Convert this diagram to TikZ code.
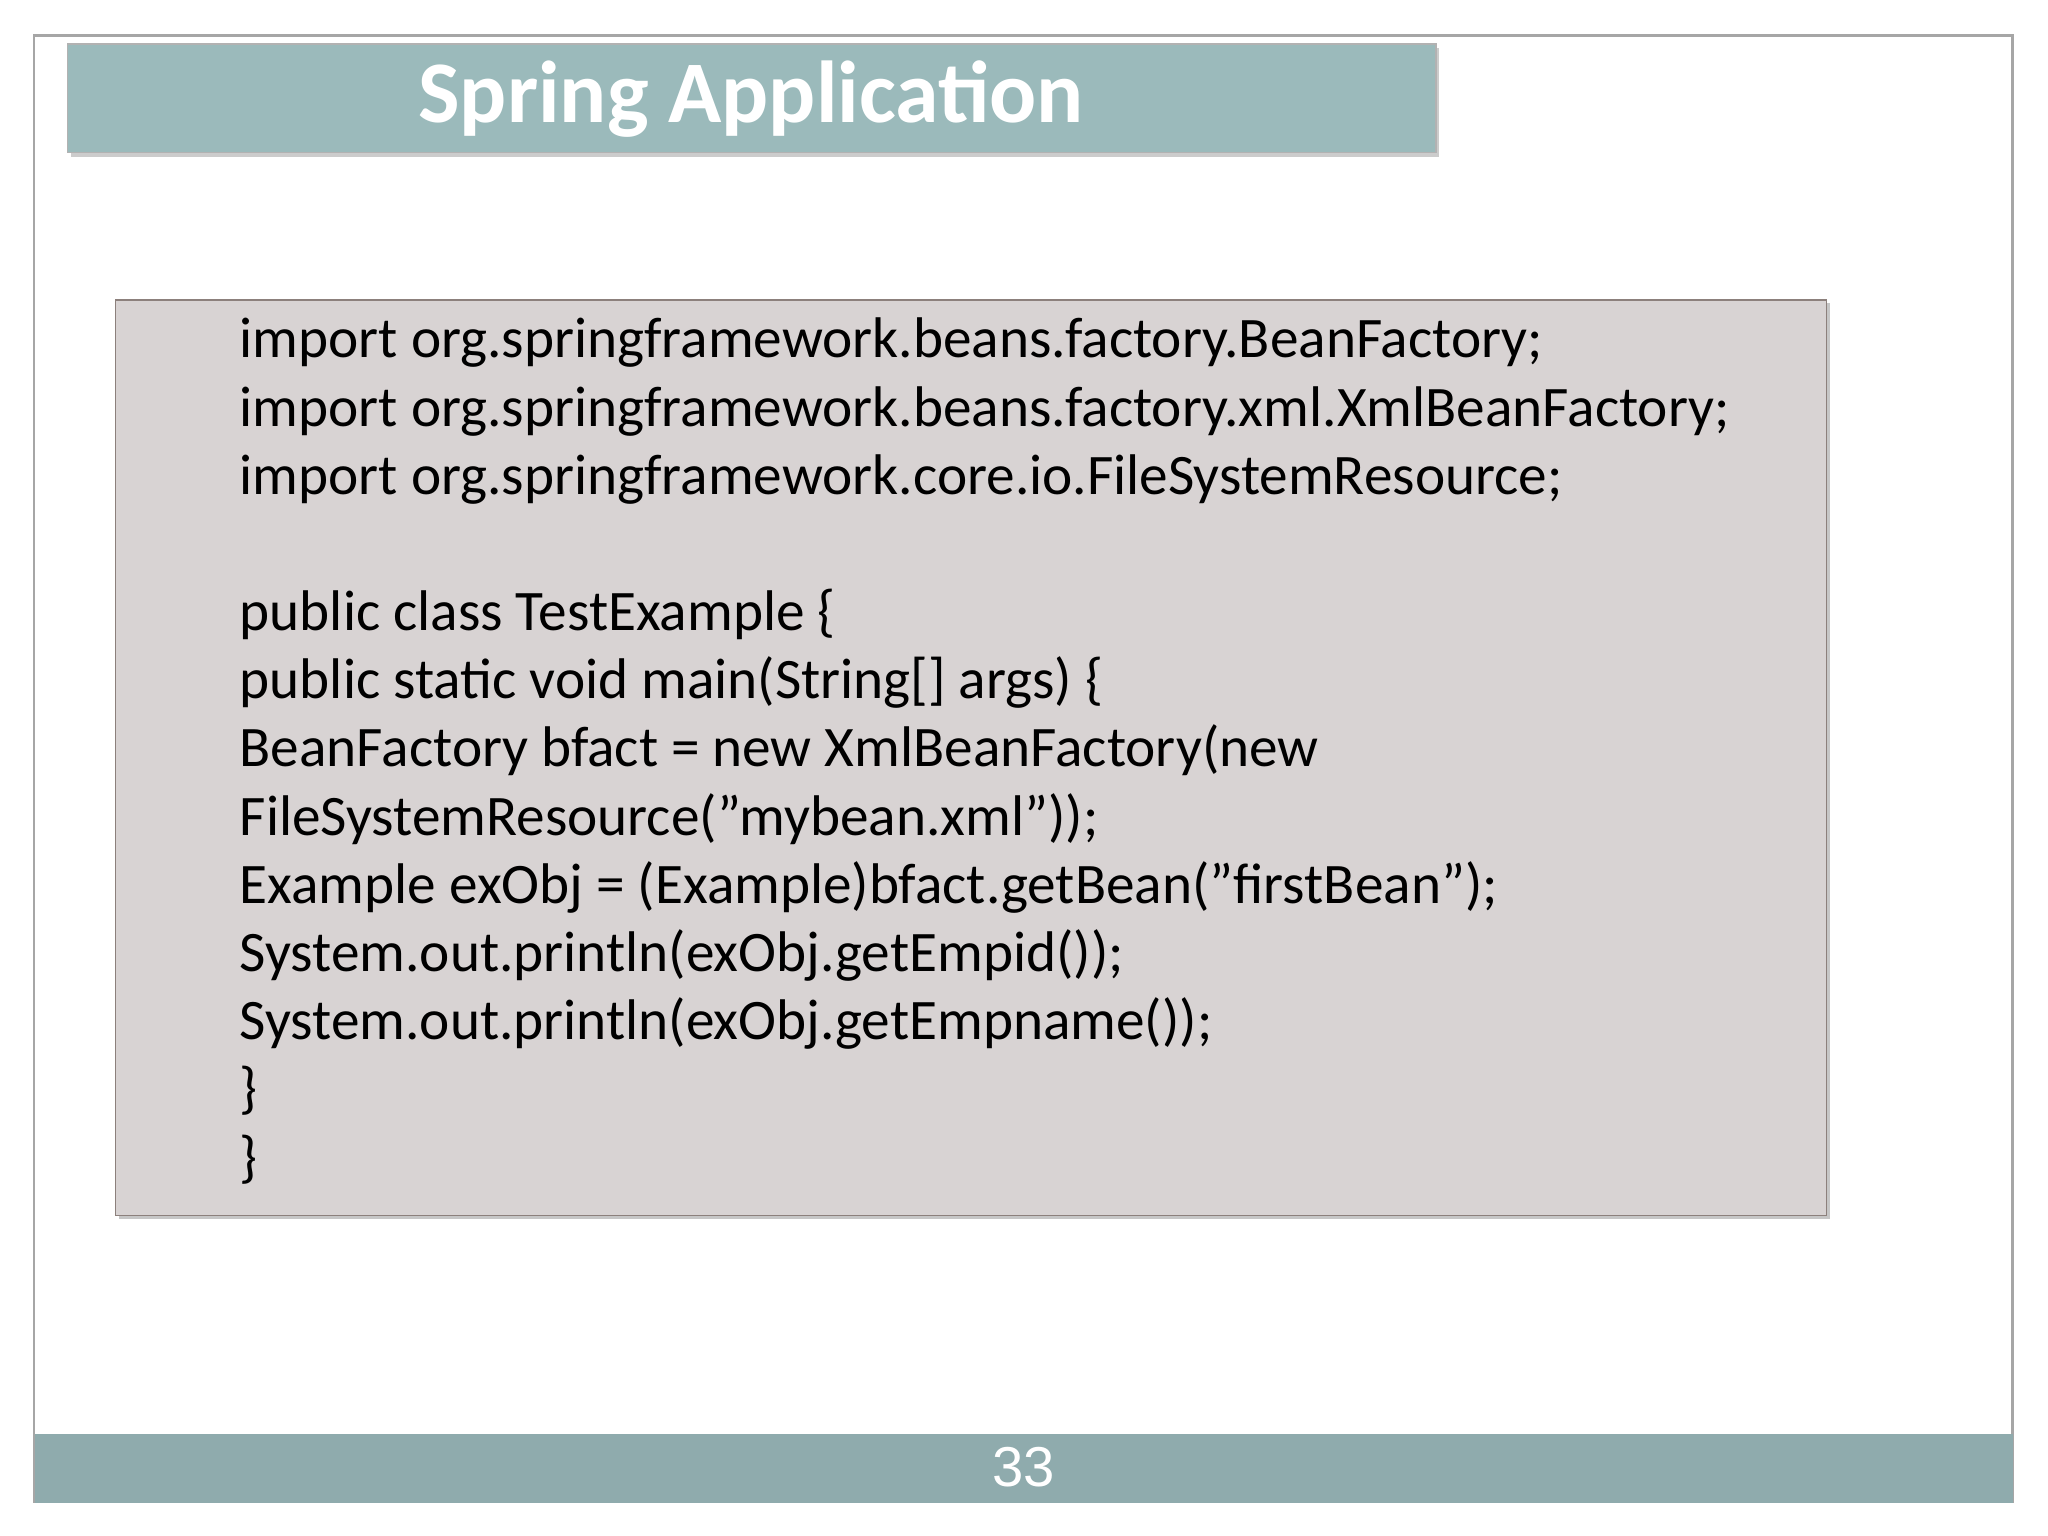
\documentclass[tikz,border=0pt]{standalone}
\usepackage{fontspec}
\setmainfont{Carlito}
\newfontfamily\numfont{Liberation Sans}
\definecolor{titlefill}{HTML}{9BBABB}
\definecolor{barfill}{HTML}{8FABAD}
\definecolor{codefill}{HTML}{D8D3D3}
\definecolor{codeline}{HTML}{8C807C}
\begin{document}
\begin{tikzpicture}[x=0.01306cm, y=-0.01306cm,
    codetext/.style={anchor=north west, align=left, inner sep=0pt,
        font=\fontsize{16.3}{19.4}\selectfont}]
\useasboundingbox (0,0) rectangle (1568,1176);
\fill[white] (0,0) rectangle (1568,1176);
\draw[gray!70, line width=0.8pt] (26,27) rectangle (1541,1150);

%title bar
\fill[gray!40] (54,37) rectangle (1102,120);
\node[draw=gray!60, fill=titlefill, minimum width=1048*0.01306cm, minimum height=83*0.01306cm,
    anchor=north west](title_bar) at (51,33){};
\node[text=white, font=\fontsize{25}{30}\bfseries\selectfont](title) at (575,76){Spring Application};

%code box
\fill[gray!45] (91,232) rectangle (1401,933);
\node[draw=codeline, fill=codefill, minimum width=1310*0.01306cm, minimum height=701*0.01306cm,
    anchor=north west](code_box) at (88,229){};
\node[codetext](code) at (183,243){import org.springframework.beans.factory.BeanFactory;\\
import org.springframework.beans.factory.xml.XmlBeanFactory;\\
import org.springframework.core.io.FileSystemResource;\\
\mbox{}\\
public class TestExample \{\\
public static void main(String[] args) \{\\
BeanFactory bfact = new XmlBeanFactory(new\\
FileSystemResource("mybean.xml"));\\
Example exObj = (Example)bfact.getBean("firstBean");\\
System.out.println(exObj.getEmpid());\\
System.out.println(exObj.getEmpname());\\
\}\\
\}};

%footer
\node[fill=barfill, minimum width=1515*0.01306cm, minimum height=53*0.01306cm,
    anchor=north west, inner sep=0pt](footer) at (26,1097){};
\node[text=white, font=\numfont\fontsize{16}{19}\selectfont](page_no) at (784,1123){33};
\end{tikzpicture}
\end{document}
